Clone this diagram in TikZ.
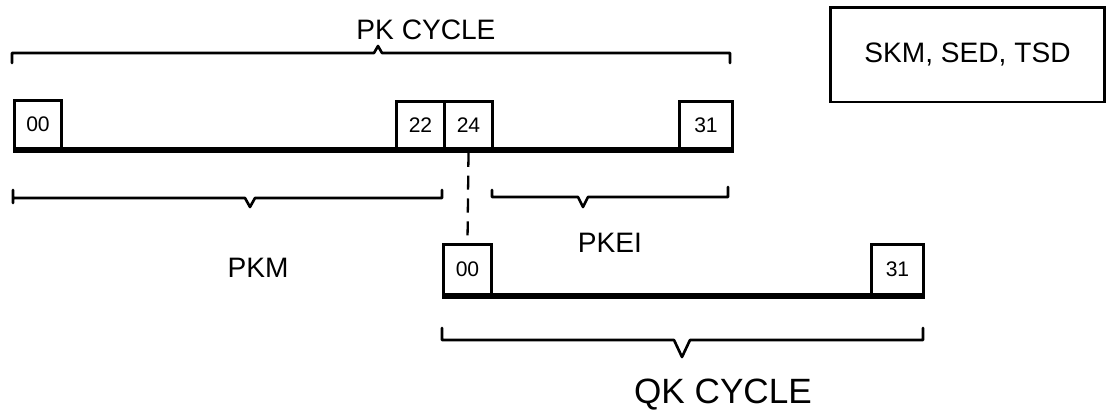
\documentclass[tikz,border=0pt]{standalone}
\usepackage{fontspec}
\setmainfont{Liberation Sans}
\usetikzlibrary{positioning}
\begin{document}
\begin{tikzpicture}[x=0.02cm, y=-0.02cm,
	slot/.style={draw, line width=1.7pt, inner sep=0pt, anchor=south west, font=\fontsize{12}{12}\selectfont},
	timeline/.style={line width=3.2pt},
	bracket/.style={line width=1.5pt, line join=round, line cap=round},
	lbl/.style={font=\fontsize{16}{16}\selectfont}]
	\useasboundingbox (0,0) rectangle (1110,413);

%boxes
	\foreach \xy/\w/\h/\name/\lab in {{(13,150)/0.94/0.96/p00/00},{(395,150)/0.96/0.94/p22/22},{(443,150)/0.96/0.94/p24/24},{(678,150)/1.06/0.94/p31/31},{(442,296)/0.96/1.0/q00/00},{(870,296)/1.04/1.0/q31/31}} {
		\node[slot, minimum width=\w cm, minimum height=\h cm] (\name) at \xy {\lab};
	}

%time lines
	\draw[timeline] (p00.south west) -- (p31.south east);
	\draw[timeline] (q00.south west) -- (q31.south east);

%link 24 -> 00
	\draw[line width=1.3pt, dash pattern=on 8pt off 5pt] ([yshift=-1.6pt]p24.south) -- (q00.north);

%pk cycle
	\draw[bracket] (12,63) -- (12,53) -- (374,53) -- (378,46) -- (382,53) -- (730,53) -- (730,63);
	\node[lbl] (pkc) at (426,30) {PK CYCLE};

%pkm, pkei
	\draw[bracket] (13,190) -- (13,203) (13,198) -- (245,198) -- (250,207) -- (255,198) -- (442,198) -- (442,190);
	\draw[bracket] (492,190) -- (492,197) -- (578,197) -- (583,207) -- (588,197) -- (728,197) -- (728,187);
	\node[lbl] (pkm) at (258,268) {PKM};
	\node[lbl] (pkei) at (610,243) {PKEI};

%qk cycle
	\draw[bracket] (442,328) -- (442,340) -- (674,340) -- (682,357) -- (690,340) -- (923,340) -- (923,328);
	\node[font=\fontsize{20}{20}\selectfont] (qkc) at (723,395) {QK CYCLE};

%keys
	\node[draw, line width=1.7pt, minimum width=5.5cm, minimum height=1.9cm, font=\fontsize{16}{16}\selectfont] (keys) at (967.5,54.5) {SKM, SED, TSD};

\end{tikzpicture}
\end{document}
